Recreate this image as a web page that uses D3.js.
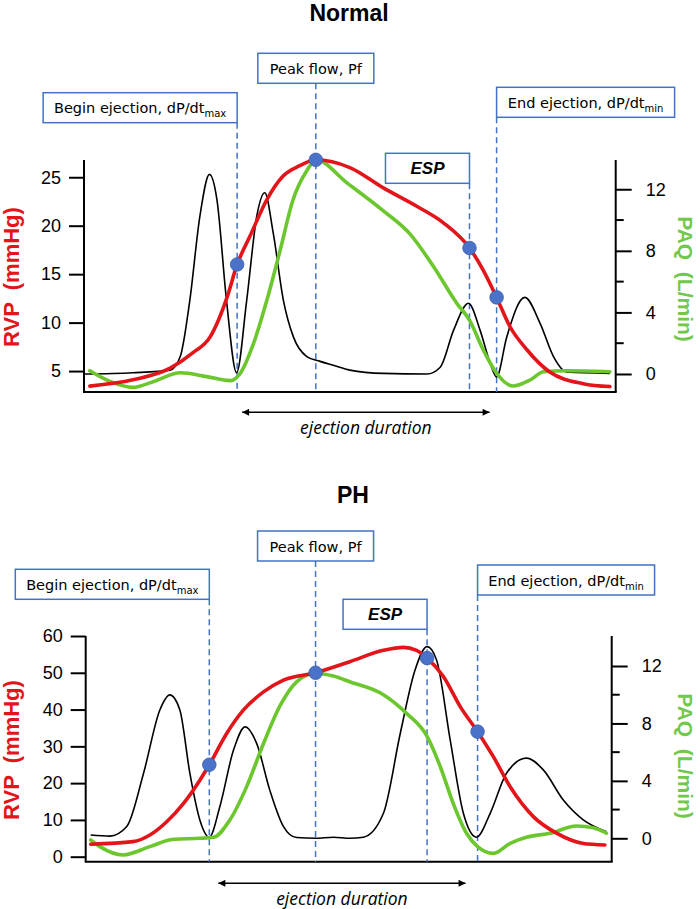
<!DOCTYPE html>
<html lang="en">
<head>
  <meta charset="UTF-8"/>
  <title>RVP and PAQ - Normal and PH</title>
  <script src="https://cdn.jsdelivr.net/npm/d3@7"></script>
  <style>
    body { margin: 0; background: #fff; }
    svg { font-family: "Liberation Sans", Arial, sans-serif; }
  </style>
</head>
<body>
<script>

// time runs 0..100 across each plot (arbitrary units)
// RVP in mmHg (left axis), PAQ in L/min (right axis), black trace drawn on left axis

var eventNames = ["Begin ejection, dP/dt", "Peak flow, Pf", "ESP", "End ejection, dP/dt"];
var eventSubs  = ["max", "", "", "min"];

var normalPressureTicks = [5, 10, 15, 20, 25];
var phPressureTicks     = [0, 10, 20, 30, 40, 50, 60];
var flowTicks           = [0, 4, 8, 12];
var flowMinorTicks      = [2, 6, 10];

var normalEventTimes = [28.8, 43.6, 72.5, 77.6];
var normalEventRVP   = [16, 26.8, 17.7, 12.6];
var phEventTimes     = [23.5, 43.7, 64.9, 74.5];
var phEventRVP       = [25, 50, 54, 34];

var normalRVP = [[1.1,3.45],[9.2,4.1],[16.2,5.3],[20.5,6.9],[23.7,8.5],[26.9,12.6],[28.8,16],[31.2,18.9],
  [34.4,22.7],[37.4,25.1],[40.6,26.2],[43.6,26.8],[50,26.0],[56.3,23.9],[62.6,22.0],[67.6,20.3],[72.5,17.7],
  [75.1,15.4],[77.6,12.6],[80.1,9.6],[83.3,7.2],[87.6,4.9],[93.9,3.7],[98.9,3.4]];

var normalPAQ = [[1.1,0.21],[5,-0.5],[9.2,-0.87],[13,-0.5],[18.1,0.08],[23.1,-0.17],[27.5,-0.43],[29.5,0.1],
  [31.8,1.9],[34.4,4.8],[36.9,8.05],[39.3,11.3],[41.9,13.2],[43.6,13.9],[49.5,12.4],[56.3,10.6],[61.3,9.1],
  [65.7,7.0],[70.1,4.6],[72.5,3.5],[75.1,1.56],[77.6,0.05],[80.7,-0.78],[83.9,-0.39],[86.4,0.15],[90.8,0.21],[98.9,0.15]];

var normalSignal = [[0,4.7],[9.2,4.83],[16.2,5.1],[18.1,6.5],[19.9,12.3],[21.8,21.0],[23.6,25.3],[25.0,22.7],
  [26.8,12.3],[28.7,4.83],[30.6,12.3],[32.5,21.0],[34.0,23.4],[35.6,19.2],[37.5,12.3],[39.4,8.5],[41.9,6.5],
  [44.4,6.0],[46.9,5.6],[50.0,5.1],[56.3,4.76],[64.5,4.7],[67.0,5.4],[69.5,9.2],[72.3,12.0],[74.5,9.2],
  [76.4,5.8],[77.6,4.4],[79.5,8.5],[82.9,12.6],[85.8,9.9],[88.3,6.5],[90.8,4.9],[98.9,4.76]];

var phRVP = [[0.95,3.4],[9.0,4.1],[12.2,5.9],[15.4,9.5],[18.6,14.5],[21.7,20.8],[23.5,25],[26.8,33.5],
  [30.0,39.9],[33.8,44.8],[37.6,48],[43.7,50],[50.2,53],[56.6,56.1],[60.4,56.9],[62.9,56.1],[64.9,54],
  [68.0,49],[71.2,40.8],[74.5,34],[77.5,27.2],[80.7,19],[85.1,10.9],[89.5,6.4],[94.6,3.6],[98.7,3.2]];

var phPAQ = [[0.95,-0.12],[2.7,-0.58],[7.1,-1.16],[12.2,-0.58],[16.7,-0.07],[21.7,0],[24.3,0.07],[27.4,1.27],
  [30.6,3.6],[33.8,6.6],[36.9,9.2],[40.1,10.9],[43.7,11.5],[47.1,11.3],[50.2,10.9],[56.6,10.0],[61.0,8.7],
  [64.9,7.1],[67.4,5.0],[69.9,2.4],[72.4,0.35],[74.5,-0.58],[77.5,-1.05],[80.7,-0.35],[83.8,0.07],
  [88.3,0.35],[93.3,0.86],[96.5,0.74],[99.0,0.35]];

var phSignal = [[0.95,5.9],[4.6,5.6],[7.8,8.2],[11.0,22.7],[14.1,39.9],[16.0,44],[17.9,39.9],[19.8,22.7],
  [21.7,10],[23.5,5.3],[25.5,13.6],[28.1,29],[30.3,35.3],[32.5,30.8],[35.0,18.1],[37.6,8.2],[40.1,5.2],
  [43.7,5.0],[47.1,5.3],[50.2,5.0],[52.8,5.3],[56.6,11.8],[59.8,33.5],[62.6,50.7],[64.9,57.1],[66.7,53.5],
  [69.3,31.7],[71.8,11.8],[74.3,5.3],[76.9,11.8],[80.0,22.7],[83.8,26.8],[87.0,23.6],[90.8,15.4],
  [94.6,10.0],[99.0,6.8]];

var red = "#e3151a", green = "#6cc72f", blue = "#4472c4";

var svg = d3.select("body").append("svg")
  .attr("width", 700)
  .attr("height", 909);

var defs = svg.append("defs");
defs.append("marker")
  .attr("id", "arrowhead")
  .attr("viewBox", "0 0 10 10")
  .attr("refX", 10).attr("refY", 5)
  .attr("markerWidth", 9).attr("markerHeight", 7)
  .attr("markerUnits", "userSpaceOnUse")
  .attr("orient", "auto-start-reverse")
  .append("path")
  .attr("d", "M0,0 L10,5 L0,10 z")
  .attr("fill", "#000");

var panels = [
  { title: "Normal", titleX: 349, titleY: 21,
    x0: 84, x1: 615.7, yTop: 160, yBottom: 392,
    leftDomain: [2.84, 26.78], rightDomain: [-1.17, 13.9],
    leftTicks: normalPressureTicks,
    rvp: normalRVP, paq: normalPAQ, sig: normalSignal,
    events: normalEventTimes, eventRVP: normalEventRVP,
    boxTop: [92.7, 53.3, 153.3, 87.3], boxW: [194, 116, 84, 178],
    arrowY: 412.3, arrowInset: [5, 7], labelY: 434,
    rvpLabelY: 277, paqLabelY: 279 },
  { title: "PH", titleX: 353, titleY: 503,
    x0: 85.7, x1: 611.7, yTop: 636, yBottom: 861.7,
    leftDomain: [-1.36, 60], rightDomain: [-1.63, 14.09],
    leftTicks: phPressureTicks,
    rvp: phRVP, paq: phPAQ, sig: phSignal,
    events: phEventTimes, eventRVP: phEventRVP,
    boxTop: [569.3, 531, 599.3, 565], boxW: [194, 116, 84, 177],
    arrowY: 883.3, arrowInset: [9, 12], labelY: 905,
    rvpLabelY: 750, paqLabelY: 756 }
];

panels.forEach(drawPanel);

function drawPanel(p) {
  var g = svg.append("g");

  var x = d3.scaleLinear().domain([0, 100]).range([p.x0, p.x1]);
  var yL = d3.scaleLinear().domain(p.leftDomain).range([p.yBottom, p.yTop]);
  var yR = d3.scaleLinear().domain(p.rightDomain).range([p.yBottom, p.yTop]);

  // title
  g.append("text")
    .attr("x", p.titleX).attr("y", p.titleY)
    .attr("text-anchor", "middle")
    .attr("font-size", 23).attr("font-weight", "bold")
    .text(p.title);

  // left axis
  var left = g.append("g")
    .attr("transform", "translate(" + p.x0 + ",0)")
    .call(d3.axisLeft(yL).tickValues(p.leftTicks).tickSize(15).tickSizeOuter(0).tickPadding(8));
  left.attr("font-family", null);
  left.select(".domain").attr("stroke-width", 2).attr("d", "M0," + p.yTop + "V" + p.yBottom);
  left.selectAll(".tick line").attr("stroke-width", 2);
  left.selectAll(".tick text").style("font-size", "18px");

  // right axis
  var right = g.append("g")
    .attr("transform", "translate(" + p.x1 + ",0)")
    .call(d3.axisRight(yR).tickValues(flowTicks).tickSize(16).tickSizeOuter(0).tickPadding(14));
  right.attr("font-family", null);
  right.select(".domain").attr("stroke-width", 2).attr("d", "M0," + p.yTop + "V" + p.yBottom);
  right.selectAll(".tick line").attr("stroke-width", 2);
  right.selectAll(".tick text").style("font-size", "18px");
  right.selectAll(".minor")
    .data(flowMinorTicks)
    .enter().append("line")
    .attr("class", "minor")
    .attr("x1", 0).attr("x2", 8)
    .attr("y1", function(d) { return yR(d); })
    .attr("y2", function(d) { return yR(d); })
    .attr("stroke", "#000").attr("stroke-width", 2);

  // bottom line
  g.append("line")
    .attr("x1", p.x0 - 1).attr("x2", p.x1 + 1)
    .attr("y1", p.yBottom).attr("y2", p.yBottom)
    .attr("stroke", "#000").attr("stroke-width", 2);

  // axis titles
  g.append("text")
    .attr("transform", "translate(19," + p.rvpLabelY + ") rotate(-90)")
    .attr("text-anchor", "middle")
    .attr("font-size", 22).attr("font-weight", "bold")
    .attr("fill", red)
    .attr("xml:space", "preserve")
    .text("RVP  (mmHg)");
  g.append("text")
    .attr("transform", "translate(678," + p.paqLabelY + ") rotate(90)")
    .attr("text-anchor", "middle")
    .attr("font-size", 21).attr("font-weight", "bold")
    .attr("fill", "#72c84a")
    .attr("xml:space", "preserve")
    .text("PAQ  (L/min)");

  // dashed event lines
  g.selectAll(".evline")
    .data(p.events)
    .enter().append("line")
    .attr("class", "evline")
    .attr("x1", function(d) { return x(d); })
    .attr("x2", function(d) { return x(d); })
    .attr("y1", function(d, i) { return p.boxTop[i] + 30; })
    .attr("y2", p.yBottom)
    .attr("stroke", blue).attr("stroke-width", 1.5)
    .attr("stroke-dasharray", "6,4");

  // traces
  var lineL = d3.line()
    .x(function(d) { return x(d[0]); })
    .y(function(d) { return yL(d[1]); })
    .curve(d3.curveMonotoneX);
  var lineR = d3.line()
    .x(function(d) { return x(d[0]); })
    .y(function(d) { return yR(d[1]); })
    .curve(d3.curveMonotoneX);

  g.append("path").datum(p.sig)
    .attr("d", lineL).attr("fill", "none")
    .attr("stroke", "#000").attr("stroke-width", 1.6);
  g.append("path").datum(p.paq)
    .attr("d", lineR).attr("fill", "none")
    .attr("stroke", green).attr("stroke-width", 3.6)
    .attr("stroke-linecap", "round");
  g.append("path").datum(p.rvp)
    .attr("d", lineL).attr("fill", "none")
    .attr("stroke", red).attr("stroke-width", 3.6)
    .attr("stroke-linecap", "round");

  // event markers
  g.selectAll(".dot")
    .data(p.events)
    .enter().append("circle")
    .attr("class", "dot")
    .attr("cx", function(d) { return x(d); })
    .attr("cy", function(d, i) { return yL(p.eventRVP[i]); })
    .attr("r", 6.8)
    .attr("fill", "#4a72c8")
    .attr("stroke", "#3a5fa8").attr("stroke-width", 0.8);

  // label boxes: begin & ESP sit left of their line, peak centred, end to the right
  var anchor = [-1, 0, -1, 1];
  p.events.forEach(function(t, i) {
    var ex = x(t);
    var w = p.boxW[i];
    var bx = anchor[i] === -1 ? ex - w : (anchor[i] === 0 ? ex - w / 2 : ex);
    g.append("rect")
      .attr("x", bx).attr("y", p.boxTop[i])
      .attr("width", w).attr("height", 30)
      .attr("fill", "#fff")
      .attr("stroke", blue).attr("stroke-width", 1.5);
    var txt = g.append("text")
      .attr("x", bx + w / 2).attr("y", p.boxTop[i] + 20.5)
      .attr("text-anchor", "middle");
    if (eventNames[i] === "ESP") {
      txt.attr("font-size", 17).attr("font-weight", "bold").attr("font-style", "italic")
        .text(eventNames[i]);
    } else {
      txt.style("font-family", "'DejaVu Sans', sans-serif").attr("font-size", 14.5)
        .append("tspan").text(eventNames[i]);
      if (eventSubs[i]) {
        txt.append("tspan")
          .attr("font-size", 10).attr("dy", 4)
          .text(eventSubs[i]);
      }
    }
  });

  // ejection duration arrow
  var ax1 = x(p.events[0]) + p.arrowInset[0];
  var ax2 = x(p.events[3]) - p.arrowInset[1];
  g.append("line")
    .attr("x1", ax1).attr("x2", ax2)
    .attr("y1", p.arrowY).attr("y2", p.arrowY)
    .attr("stroke", "#000").attr("stroke-width", 1.4)
    .attr("marker-start", "url(#arrowhead)")
    .attr("marker-end", "url(#arrowhead)");
  g.append("text")
    .attr("x", (ax1 + ax2) / 2).attr("y", p.labelY)
    .attr("text-anchor", "middle")
    .style("font-family", "'Open Sans', sans-serif")
    .attr("font-style", "italic").attr("font-size", 17.5)
    .text("ejection duration");
}

</script>
</body>
</html>
